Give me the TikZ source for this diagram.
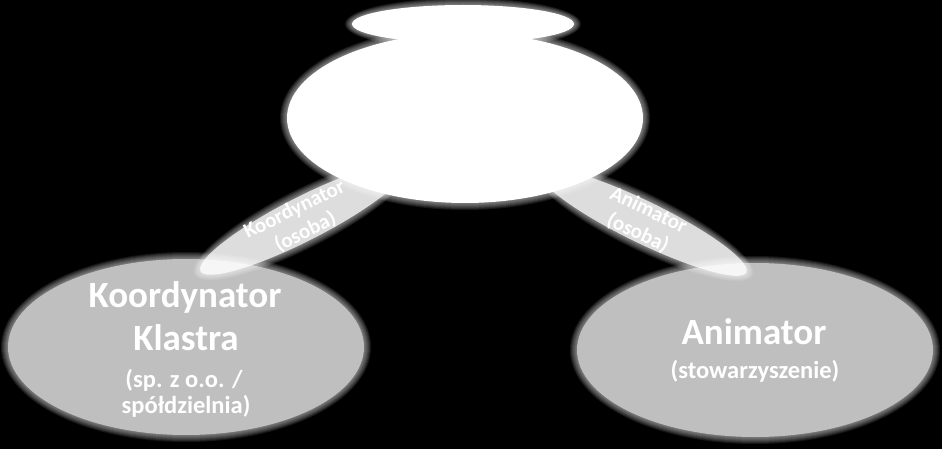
\documentclass[tikz,border=0pt]{standalone}
\usepackage{fontspec}
\setmainfont{Carlito}
\usetikzlibrary{shapes.geometric}
\definecolor{ovalgray}{HTML}{BFBFBF}
\newcommand\halo[5]{%
  \begin{scope}[shift={(#1,#2)},rotate=#5]
    \foreach \g in {1,...,7}{\fill[white,opacity=0.085] (0,0) ellipse [x radius={#3+\g}, y radius={#4+\g}];}
  \end{scope}}
\tikzset{
  oval/.style={ellipse, inner sep=0pt, draw=none, fill=ovalgray},
  topoval/.style={ellipse, inner sep=0pt, draw=none, fill=white},
  band/.style={ellipse, inner sep=0pt, draw=none, fill=white, fill opacity=0.76},
  title/.style={text=white, font=\fontsize{37}{44}\selectfont\bfseries, anchor=base, inner sep=0pt},
  subtitle/.style={text=white, font=\fontsize{24.5}{26}\selectfont\bfseries, anchor=base, inner sep=0pt},
  bandlabel/.style={text=white, font=\fontsize{21}{25}\selectfont\bfseries, align=center, inner sep=0pt},
}
\begin{document}
\begin{tikzpicture}[x=1pt,y=-1pt]
\fill[black] (0,0) rectangle (942,449);
\useasboundingbox (0,0) rectangle (942,449);
% lower ovals
\halo{186}{347}{178}{88}{0}
\halo{755}{350}{178}{87}{0}
\node[oval, minimum width=356pt, minimum height=176pt] (kk) at (186,347) {};
\node[oval, minimum width=356pt, minimum height=174pt] (an) at (755,350) {};
% bands
\halo{303}{219}{115}{22}{27}
\halo{643}{222}{115}{21}{-26}
\node[band, minimum width=230pt, minimum height=44pt, rotate=27] (bandL) at (303,219) {};
\node[band, minimum width=230pt, minimum height=42pt, rotate=-26] (bandR) at (643,222) {};
% top ovals
\halo{463}{24}{111}{19}{0}
\halo{465}{118}{178}{85}{0}
\node[topoval, minimum width=222pt, minimum height=38pt] (topsmall) at (463,24) {};
\node[topoval, minimum width=356pt, minimum height=170pt] (topbig) at (465,118) {};
% texts
\node[title] (kk1) at (185,307) {Koordynator};
\node[title] (kk2) at (186,350) {Klastra};
\node[subtitle] (kk3) at (184,387) {(sp. z o.o. /};
\node[subtitle] (kk4) at (186,413) {spółdzielnia)};
\node[title] (an1) at (754,344) {Animator};
\node[subtitle] (an2) at (755,378) {(stowarzyszenie)};
\node[bandlabel, rotate=26] (lblL) at (300,221) {Koordynator\\(osoba)};
\node[bandlabel, rotate=-25] (lblR) at (643,222) {Animator\\(osoba)};
\end{tikzpicture}
\end{document}
